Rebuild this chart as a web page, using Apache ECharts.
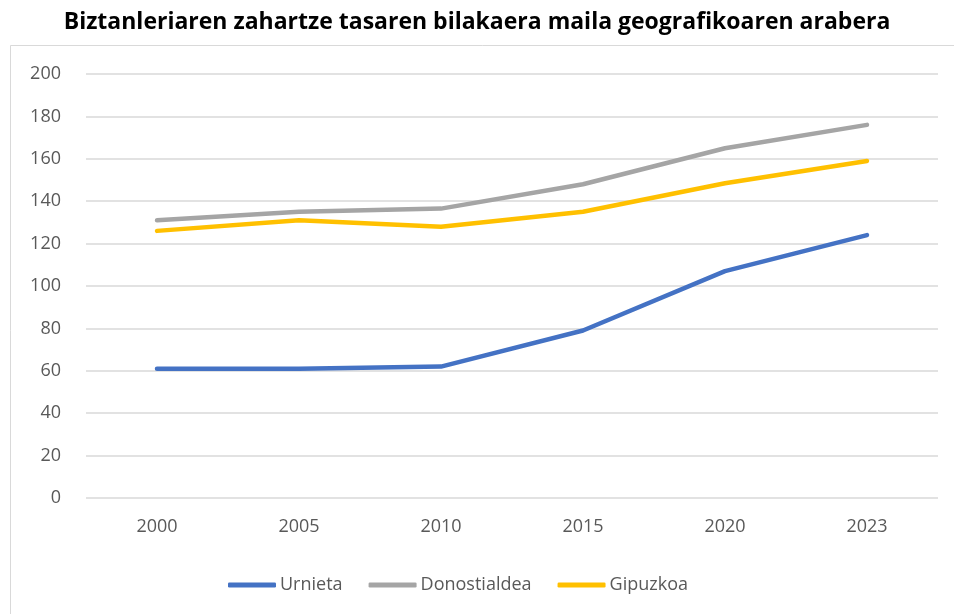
<!DOCTYPE html>
<html>
<head>
<meta charset="utf-8">
<script src="https://cdn.jsdelivr.net/npm/echarts@6/dist/echarts.min.js"></script>
<style>
  html, body { margin: 0; padding: 0; background: #fff; }
  #main { width: 954px; height: 614px; }
</style>
</head>
<body>
<div id="main"></div>
<script>
  // data
  var years = ['2000', '2005', '2010', '2015', '2020', '2023']
  var urnieta = [61, 61, 62, 79, 107, 124]
  var donostialdea = [131, 135, 136.5, 148, 165, 176]
  var gipuzkoa = [126, 131, 128, 135, 148.5, 159]

  var myChart = echarts.init(document.getElementById('main'))
  var font = 'Open Sans'
  var option = {
    animation: false,
    backgroundColor: '#fff',
    title: {
      text: 'Biztanleriaren zahartze tasaren bilakaera maila geografikoaren arabera',
      left: 'center',
      top: 6,
      textStyle: { fontFamily: font, fontSize: 23, fontWeight: 'bold', color: '#000' }
    },
    graphic: [{
      type: 'rect',
      shape: { x: 10.5, y: 45.5, width: 960, height: 600 },
      style: { fill: 'none', stroke: '#d9d9d9', lineWidth: 1 },
      silent: true
    }],
    legend: {
      top: 571,
      left: 223,
      itemWidth: 48,
      itemHeight: 5,
      itemGap: 26,
      icon: 'roundRect',
      textStyle: { fontFamily: font, fontSize: 18, color: '#595959', padding: [0, 0, 0, -1] },
      data: ['Urnieta', 'Donostialdea', 'Gipuzkoa']
    },
    grid: { left: 86, right: 16, top: 74, bottom: 116 },
    xAxis: {
      type: 'category',
      data: years,
      boundaryGap: true,
      axisLine: { show: false },
      axisTick: { show: false },
      axisLabel: { fontFamily: font, fontSize: 18, color: '#595959', margin: 20 }
    },
    yAxis: {
      type: 'value',
      min: 0,
      max: 200,
      interval: 20,
      axisLine: { show: false },
      axisTick: { show: false },
      axisLabel: { fontFamily: font, fontSize: 18, color: '#595959', margin: 25 },
      splitLine: { lineStyle: { color: '#d9d9d9', width: 1.5 } }
    },
    series: [
      {
        name: 'Urnieta',
        type: 'line',
        data: urnieta,
        symbol: 'none',
        color: '#4472C4',
        lineStyle: { width: 4.5, cap: 'round', join: 'round' }
      },
      {
        name: 'Donostialdea',
        type: 'line',
        data: donostialdea,
        symbol: 'none',
        color: '#A5A5A5',
        lineStyle: { width: 4.5, cap: 'round', join: 'round' }
      },
      {
        name: 'Gipuzkoa',
        type: 'line',
        data: gipuzkoa,
        symbol: 'none',
        color: '#FFC000',
        lineStyle: { width: 4.5, cap: 'round', join: 'round' }
      }
    ]
  }
  myChart.setOption(option)
</script>
</body>
</html>
